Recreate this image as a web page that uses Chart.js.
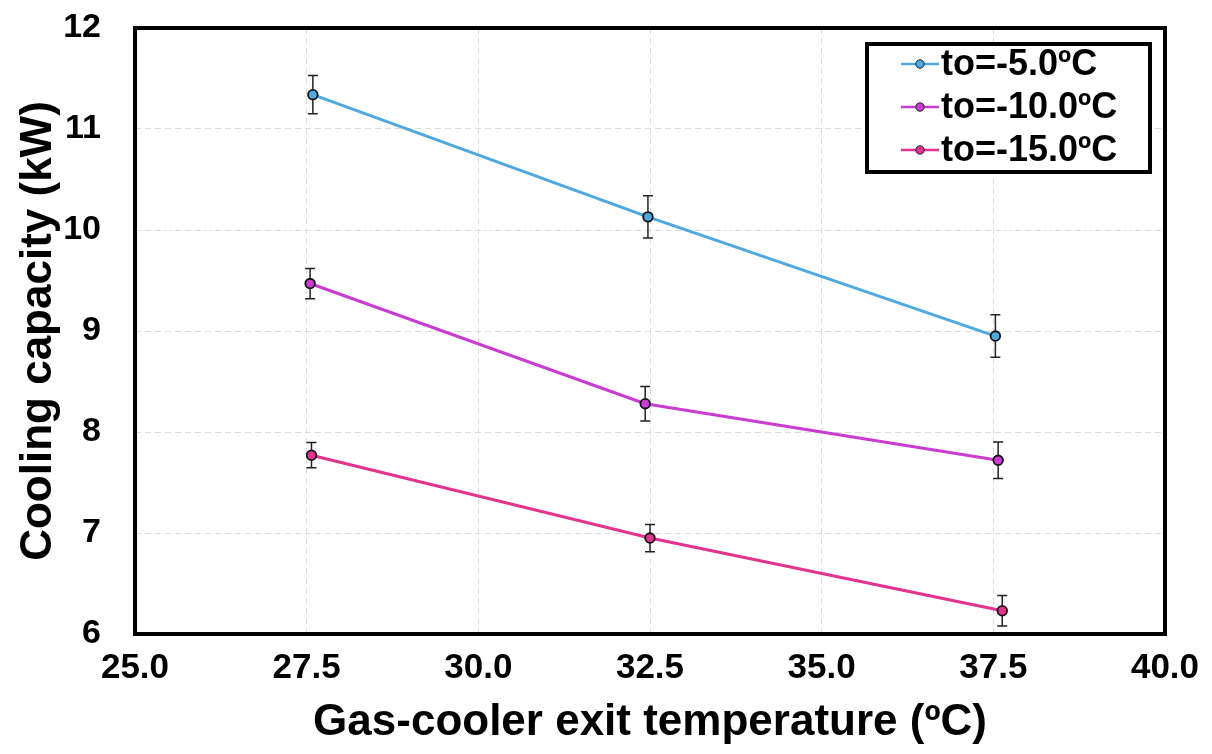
<!DOCTYPE html>
<html>
<head>
<meta charset="utf-8">
<script src="https://cdn.jsdelivr.net/npm/chart.js@4.4.0/dist/chart.umd.min.js"></script>
<style>
html,body{margin:0;padding:0;background:#fff;}
#wrap{width:1212px;height:754px;position:relative;}
</style>
</head>
<body>
<div id="wrap"><canvas id="c" width="1212" height="754"></canvas></div>
<script>
// ---- data ----
const seriesLabels = ['to=-5.0ºC', 'to=-10.0ºC', 'to=-15.0ºC'];
const xTo5  = [27.59, 32.47, 37.53];
const yTo5  = [11.34, 10.13, 8.95];
const eTo5  = [0.19, 0.21, 0.21];
const xTo10 = [27.55, 32.43, 37.57];
const yTo10 = [9.47, 8.28, 7.72];
const eTo10 = [0.15, 0.17, 0.18];
const xTo15 = [27.57, 32.50, 37.63];
const yTo15 = [7.77, 6.95, 6.23];
const eTo15 = [0.125, 0.135, 0.15];
const xTitle = 'Gas-cooler exit temperature (ºC)';
const yTitle = 'Cooling capacity (kW)';

const colors = ['#4FA8DE', '#C83CD2', '#E2348E'];
const FONT = "'Liberation Sans', Arial, sans-serif";

function pts(xs, ys) { return xs.map((x, i) => ({x: x, y: ys[i]})); }
const errs = [eTo5, eTo10, eTo15];

const datasets = [
  {label: seriesLabels[0], data: pts(xTo5, yTo5)},
  {label: seriesLabels[1], data: pts(xTo10, yTo10)},
  {label: seriesLabels[2], data: pts(xTo15, yTo15)}
].map((d, i) => Object.assign(d, {
  borderColor: colors[i],
  backgroundColor: colors[i],
  pointBackgroundColor: colors[i],
  pointBorderColor: '#111',
  pointBorderWidth: 1.8,
  pointRadius: 4.8,
  borderWidth: 3,
  showLine: true,
  tension: 0
}));

const errorBarPlugin = {
  id: 'errorBars',
  afterDatasetsDraw(chart) {
    const ctx = chart.ctx;
    const xs = chart.scales.x, ys = chart.scales.y;
    ctx.save();
    ctx.strokeStyle = '#222';
    ctx.lineWidth = 1.5;
    chart.data.datasets.forEach((ds, di) => {
      ds.data.forEach((p, i) => {
        const e = errs[di][i];
        const px = xs.getPixelForValue(p.x);
        const top = ys.getPixelForValue(p.y + e);
        const bot = ys.getPixelForValue(p.y - e);
        const py = ys.getPixelForValue(p.y);
        ctx.beginPath();
        ctx.moveTo(px, top); ctx.lineTo(px, py - 5);
        ctx.moveTo(px, py + 5); ctx.lineTo(px, bot);
        ctx.moveTo(px - 5, top); ctx.lineTo(px + 5, top);
        ctx.moveTo(px - 5, bot); ctx.lineTo(px + 5, bot);
        ctx.stroke();
      });
    });
    ctx.restore();
  }
};

const framePlugin = {
  id: 'frame',
  afterDraw(chart) {
    const {ctx, chartArea: a} = chart;
    ctx.save();
    ctx.strokeStyle = '#000';
    ctx.lineWidth = 4;
    ctx.strokeRect(a.left, a.top, a.right - a.left, a.bottom - a.top);
    // legend box
    const bx = 867, by = 44, bw = 283, bh = 128;
    ctx.fillStyle = '#fff';
    ctx.fillRect(bx, by, bw, bh);
    ctx.strokeRect(bx, by, bw, bh);
    const rows = [64, 107, 150];
    chart.data.datasets.forEach((ds, i) => {
      const y = rows[i];
      ctx.strokeStyle = ds.borderColor;
      ctx.lineWidth = 2.5;
      ctx.beginPath(); ctx.moveTo(901, y); ctx.lineTo(939, y); ctx.stroke();
      ctx.beginPath(); ctx.arc(920, y, 4.2, 0, Math.PI * 2);
      ctx.fillStyle = ds.borderColor; ctx.fill();
      ctx.lineWidth = 1; ctx.strokeStyle = '#222'; ctx.stroke();
      ctx.fillStyle = '#000';
      ctx.font = "bold 36px " + FONT;
      ctx.textBaseline = 'middle';
      ctx.textAlign = 'left';
      ctx.fillText(ds.label, 941, y + 1);
    });
    ctx.restore();
  }
};

new Chart(document.getElementById('c'), {
  type: 'scatter',
  data: {datasets: datasets},
  plugins: [errorBarPlugin, framePlugin],
  options: {
    responsive: false,
    animation: false,
    layout: {padding: {top: 28, right: 47, left: 0, bottom: 0}},
    plugins: {legend: {display: false}, tooltip: {enabled: false}},
    scales: {
      x: {
        type: 'linear', min: 25, max: 40,
        afterFit(s) { s.height = 120; s.paddingLeft = 0; s.paddingRight = 0; },
        ticks: {stepSize: 2.5, padding: 13, color: '#000',
          font: {family: FONT, size: 35, weight: 'bold'},
          callback: v => Number(v).toFixed(1)},
        grid: {color: '#dcdcdc', lineWidth: 1, drawTicks: false},
        border: {display: false, dash: [6, 4]},
        title: {display: true, text: xTitle, color: '#000',
          font: {family: FONT, size: 44, weight: 'bold', lineHeight: 1},
          padding: {top: 0, bottom: 9}}
      },
      y: {
        type: 'linear', min: 6, max: 12,
        afterFit(s) { s.width = 135; s.paddingTop = 0; s.paddingBottom = 0; },
        ticks: {stepSize: 1, padding: 34, color: '#000',
          font: {family: FONT, size: 34, weight: 'bold'}},
        grid: {color: '#dcdcdc', lineWidth: 1, drawTicks: false},
        border: {display: false, dash: [6, 4]},
        title: {display: true, text: yTitle, color: '#000',
          font: {family: FONT, size: 44, weight: 'bold', lineHeight: 1},
          padding: {top: 17, bottom: 0}}
      }
    }
  }
});
</script>
</body>
</html>
